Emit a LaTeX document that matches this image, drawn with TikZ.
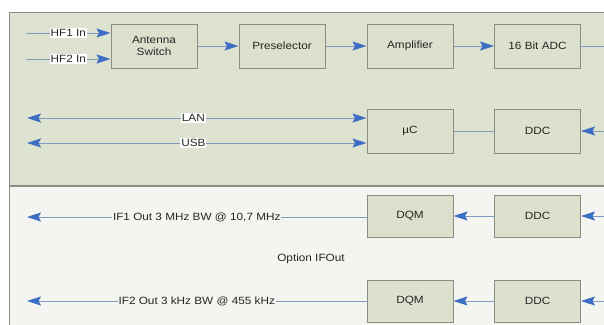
\documentclass[tikz,border=0pt]{standalone}
\usepackage{fontspec}
\setmainfont[FakeStretch=1.12]{Liberation Sans}
\usetikzlibrary{arrows.meta}
\definecolor{panelgreen}{HTML}{DEE3D1}
\definecolor{panellow}{HTML}{F4F4F0}
\definecolor{boxfill}{HTML}{DCE1CE}
\definecolor{boxline}{HTML}{8C8C84}
\definecolor{wire}{HTML}{819BC2}
\definecolor{tip}{HTML}{3C6EC3}
\definecolor{txt}{HTML}{262626}
\tikzset{bluetip/.tip={Stealth[length=14pt,width=9pt,inset=2.5pt,color=tip,fill=tip]}}
\begin{document}
\begin{tikzpicture}[x=1pt,y=-1pt,
  blk/.style={draw=boxline,line width=1pt,fill=boxfill,minimum width=86pt,minimum height=44pt,inner sep=0pt,font=\fontsize{10.5}{12}\selectfont,text=txt,align=center},
  wire/.style={draw=wire,line width=0.9pt},
  arr/.style={wire,-bluetip},
  arrb/.style={wire,bluetip-bluetip},
  lbl/.style={fill=white,inner sep=1pt,font=\fontsize{10.5}{12}\selectfont,text=txt},
  lbl2/.style={fill=panellow,inner sep=1pt,font=\fontsize{10.5}{12}\selectfont,text=txt}]
\useasboundingbox (0,0) rectangle (604,324);
\fill[white] (0,0) rectangle (604,324);
\draw[boxline,line width=1pt,fill=panelgreen] (9,12) rectangle (612,185);
\draw[boxline,line width=1pt,fill=panellow] (9,186) rectangle (612,330);

\node[blk] (ant) at (154,46) {Antenna\\Switch};
\node[blk] (pre) at (282,46) {Preselector};
\node[blk] (amp) at (410,46) {Amplifier};
\node[blk] (adc) at (537.5,46) {16 Bit ADC};
\node[blk] (uc) at (410,131) {µC};
\node[blk] (ddc1) at (537.5,131) {DDC};
\node[blk,minimum height=42pt] (dqm1) at (410,216) {DQM};
\node[blk,minimum height=42pt] (ddc2) at (537.5,216) {DDC};
\node[blk,minimum height=42pt] (dqm2) at (410,301) {DQM};
\node[blk,minimum height=42pt] (ddc3) at (537.5,301) {DDC};

\coordinate (hf1) at (26,33);
\coordinate (hf2) at (26,59);
\coordinate (lan) at (27,118);
\coordinate (usb) at (27,143);
\coordinate (if1) at (27,217);
\coordinate (if2) at (27,301);
\coordinate (r1) at (606,46);
\coordinate (r2) at (606,131);
\coordinate (r3) at (606,216);
\coordinate (r4) at (606,301);

\draw[arr] (hf1) -- (hf1 -| ant.west) node[lbl,pos=0.5] {HF1 In};
\draw[arr] (hf2) -- (hf2 -| ant.west) node[lbl,pos=0.5] {HF2 In};
\draw[arr] (ant) -- (pre);
\draw[arr] (pre) -- (amp);
\draw[arr] (amp) -- (adc);
\draw[wire] (adc) -- (r1);

\draw[arrb] (lan) -- (lan -| uc.west) node[lbl,pos=0.49] {LAN};
\draw[arrb] (usb) -- (usb -| uc.west) node[lbl,pos=0.49] {USB};
\draw[wire] (uc) -- (ddc1);
\draw[arr] (r2) -- (ddc1);

\draw[arr] (r3) -- (ddc2);
\draw[arr] (ddc2) -- (dqm1);
\draw[arr] (dqm1.west |- if1) -- (if1) node[lbl2,pos=0.5] {IF1 Out 3 MHz BW @ 10,7 MHz};
\draw[arr] (r4) -- (ddc3);
\draw[arr] (ddc3) -- (dqm2);
\draw[arr] (dqm2) -- (if2) node[lbl2,pos=0.5] {IF2 Out 3 kHz BW @ 455 kHz};

\node[font=\fontsize{10.5}{12}\selectfont,text=txt] (opt) at (311,259) {Option IFOut};
\end{tikzpicture}
\end{document}
